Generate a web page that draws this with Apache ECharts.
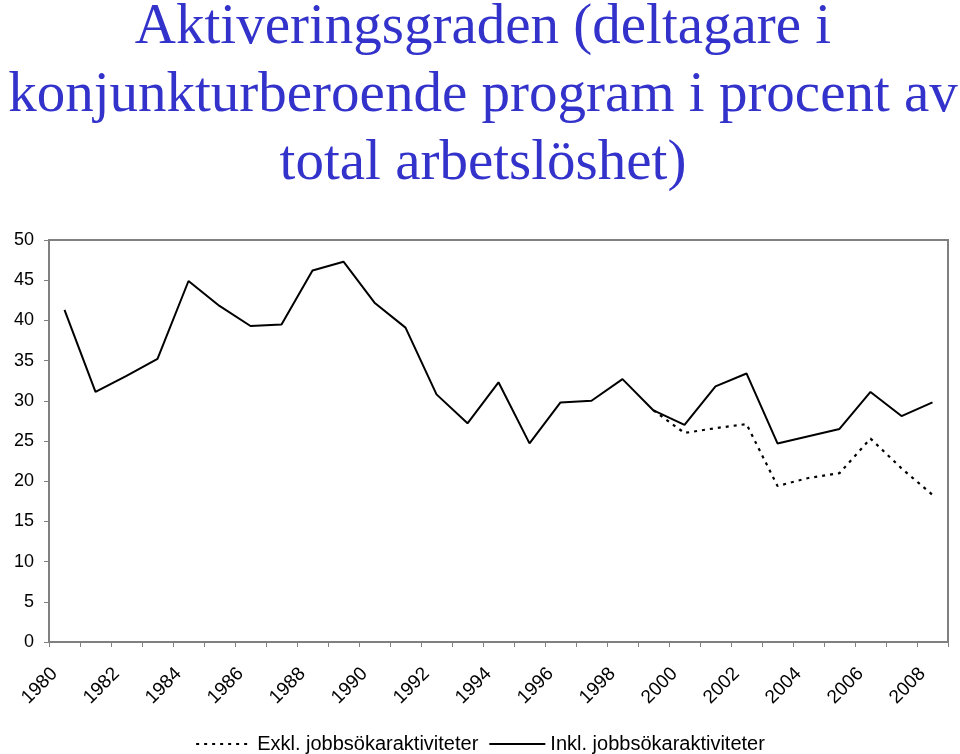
<!DOCTYPE html>
<html>
<head>
<meta charset="utf-8">
<script src="https://cdn.jsdelivr.net/npm/echarts@6/dist/echarts.min.js"></script>
<style>html,body{margin:0;padding:0;background:#fff}#c{width:960px;height:754px}</style>
</head>
<body>
<div id="c"></div>
<script>
const years = ['1980','1981','1982','1983','1984','1985','1986','1987','1988','1989','1990','1991','1992','1993','1994','1995','1996','1997','1998','1999','2000','2001','2002','2003','2004','2005','2006','2007','2008'];
const inkl = [41.3,31.1,33.1,35.2,44.9,41.8,39.3,39.5,46.2,47.3,42.2,39.1,30.8,27.2,32.3,24.7,29.8,30.0,32.7,28.8,27.0,31.8,33.4,24.7,25.6,26.5,31.1,28.1,29.8];
const exkl = [null,null,null,null,null,null,null,null,null,null,null,null,null,null,null,null,null,null,null,28.8,26.0,26.6,27.1,19.4,20.4,21.0,25.3,21.6,18.3];
const yTicks = [0,5,10,15,20,25,30,35,40,45,50];
const titleText = 'Aktiveringsgraden (deltagare i\nkonjunkturberoende program i procent av\ntotal arbetslöshet)';
const nameExkl = 'Exkl. jobbsökaraktiviteter';
const nameInkl = 'Inkl. jobbsökaraktiviteter';

const chart = echarts.init(document.getElementById('c'));
chart.setOption({
  animation: false,
  backgroundColor: '#fff',
  title: {
    text: titleText,
    left: 478, top: -11, textAlign: 'center',
    textStyle: {fontFamily: '"Liberation Serif","Times New Roman",serif', fontWeight: 'normal', fontSize: 57, lineHeight: 68, color: '#3333cc'}
  },
  legend: {
    top: 729, left: 'center', itemGap: 10, itemWidth: 56, itemHeight: 14,
    itemStyle: {opacity: 0},
    textStyle: {fontFamily: '"Liberation Sans",Arial,sans-serif', fontSize: 20, color: '#000'},
    data: [nameExkl, nameInkl]
  },
  grid: {left: 49, right: 12, top: 240, bottom: 112, show: true, borderColor: '#808080', borderWidth: 2},
  xAxis: {
    type: 'category', data: years, boundaryGap: true,
    axisLine: {lineStyle: {color: '#808080', width: 2}},
    axisTick: {show: true, interval: 0, length: 5, lineStyle: {color: '#808080'}},
    axisLabel: {interval: 1, rotate: 45, margin: 19, padding: [0, 14, 0, 0], fontFamily: '"Liberation Sans",Arial,sans-serif', fontSize: 19, color: '#000'},
    splitLine: {show: false}
  },
  yAxis: {
    type: 'value', min: 0, max: 50, interval: 5,
    axisLine: {show: true, lineStyle: {color: '#808080', width: 2}},
    axisTick: {show: true, length: 5, lineStyle: {color: '#808080'}},
    axisLabel: {margin: 15, fontFamily: '"Liberation Sans",Arial,sans-serif', fontSize: 18, color: '#000',
      formatter: v => yTicks.includes(v) ? String(v) : ''},
    splitLine: {show: false}
  },
  series: [
    {name: nameExkl, type: 'line', data: exkl, symbol: 'none', connectNulls: false,
     lineStyle: {color: '#000', width: 2.2, type: [3, 5]}, itemStyle: {color: '#000'}, z: 2},
    {name: nameInkl, type: 'line', data: inkl, symbol: 'none',
     lineStyle: {color: '#000', width: 2}, itemStyle: {color: '#000'}, z: 3}
  ]
});
</script>
</body>
</html>
